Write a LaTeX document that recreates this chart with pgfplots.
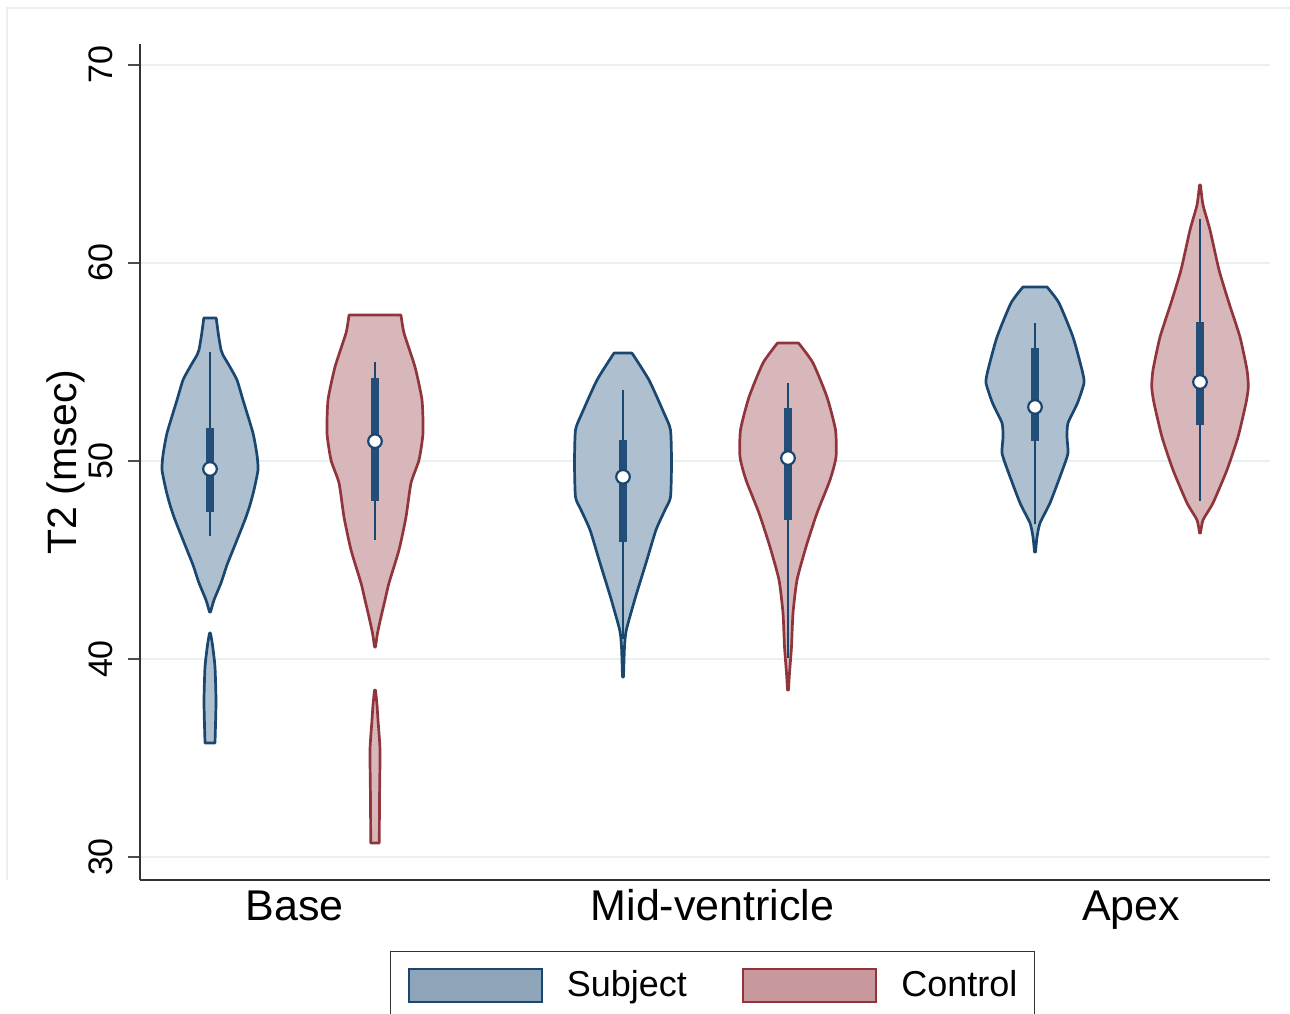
\documentclass[border=0pt]{standalone}
\usepackage{pgfplots}
\pgfplotsset{compat=1.18}
\usepackage{pgfplotstable}
\usepgfplotslibrary{fillbetween}
\usepackage{fontspec}
\setmainfont{Liberation Sans}
\definecolor{navy}{HTML}{1A476F}
\definecolor{boxc}{HTML}{224E78}
\definecolor{maroon}{HTML}{90353B}
\definecolor{sfill}{HTML}{AEBFCF}
\definecolor{cfill}{HTML}{D8B7BB}
\definecolor{slegf}{HTML}{8EA4B8}
\definecolor{clegf}{HTML}{C8989C}
\definecolor{gridc}{HTML}{E8F0F2}

% violin outlines: y value, half-width (in x-axis units)
\pgfplotstableread{
y w
42.37 0.5
42.98 4
43.84 11
44.75 17
45.51 23
46.52 31
47.17 36
47.78 40
48.54 44
49.55 48
50.30 47
51.41 43
53.08 33
54.09 27
54.75 20
55.35 13
55.61 11
56.36 8.5
57.22 6.2
}\bsA
\pgfplotstableread{
y w
35.76 5
36.67 5.5
37.93 6
39.60 5
40.71 2.5
41.31 0.5
}\bsB
\pgfplotstableread{
y w
40.61 0.5
41.31 2.5
42.12 6
42.98 10
43.84 14
45.51 24
47.17 31
48.89 36
50.05 44
51.41 48
53.08 47
54.75 40
56.46 29
57.37 26
}\bcA
\pgfplotstableread{
y w
30.71 4.3
32.88 4.5
35.40 5
36.92 3
37.68 2
38.43 0.5
}\bcB
\pgfplotstableread{
y w
39.09 0.5
40.61 1.5
41.46 3.3
43.13 12.5
44.85 23
46.52 33
47.53 42
48.18 47.5
49.90 48.5
51.57 47.5
52.42 41
54.09 26
55.45 9
}\msA
\pgfplotstableread{
y w
38.43 0.5
39.29 1.5
40.61 3.5
42.32 5
43.99 9
45.66 18
47.37 29
49.04 42
50.20 48
51.57 47.5
53.23 39
54.95 25
55.96 10.5
}\mcA
\pgfplotstableread{
y w
45.40 0.5
46.16 2
46.87 5
47.88 15
49.55 27.5
50.40 33
51.21 32
51.92 33
52.93 42.5
53.94 49
54.60 47
56.26 38
57.98 24
58.79 12
}\asA
\pgfplotstableread{
y w
46.36 0.5
47.02 3
47.88 13
49.55 27
51.21 38
52.93 46
53.74 48.3
54.60 47
56.26 40
57.98 29
59.65 19
61.67 10
62.93 3
63.94 0.5
}\acA

\newcommand{\violin}[5]{%
  \addplot[draw=none, forget plot, smooth, tension=0.35, name path=#2R] table[x expr=#3+\thisrow{w}, y=y]{#1};
  \addplot[draw=none, forget plot, smooth, tension=0.35, name path=#2L] table[x expr=#3-\thisrow{w}, y=y]{#1};
  \addplot[fill=#4, draw=#5, line width=1.35pt, line join=round, forget plot] fill between[of=#2R and #2L, reverse=true];
}

\begin{document}
\begin{tikzpicture}
\draw[gridc, line width=0.75pt] (3.5pt,66.5pt) -- (3.5pt,502.5pt) -- (645pt,502.5pt);
\begin{axis}[
  at={(70pt,66.5pt)}, anchor=south west,
  width=565pt, height=418pt, scale only axis,
  xmin=140, xmax=1270, ymin=28.84, ymax=71.06,
  axis x line*=bottom, axis y line*=left,
  axis line style={black!80, line width=0.75pt},
  ytick={30,40,50,60,70},
  ymajorgrids, grid style={gridc, line width=1pt},
  tick align=outside, major tick length=6pt,
  ytick style={black!70, line width=0.75pt},
  xtick={294.5,712.5,1131},
  xticklabels={Base,Mid-ventricle,Apex},
  xtick style={draw=none},
  /pgf/number format/assume math mode=true,
  yticklabel style={rotate=90, anchor=south, inner sep=0pt, yshift=7.25pt, font=\fontsize{17}{20}\selectfont},
  xticklabel style={anchor=base, inner sep=0pt, yshift=-14pt, font=\fontsize{21.5}{24}\selectfont},
  ylabel={T2 (msec)},
  ylabel style={at={(axis description cs:-0.0655,0.5)}, anchor=center, font=\fontsize{20.5}{24}\selectfont},
  legend columns=2,
  legend style={at={(axis description cs:0.5066,-0.0849)}, anchor=north,
    draw=black!80, line width=0.6pt, inner xsep=8.5pt, inner ysep=8pt,
    font=\fontsize{18}{20}\selectfont,
    nodes={inner sep=0pt},
    /tikz/every odd column/.style={column sep=12pt},
    /tikz/every even column/.style={column sep=27.5pt}},
  clip=false,
]
\violin{\bsA}{bsa}{210}{sfill}{navy}
\violin{\bsB}{bsb}{210}{sfill}{navy}
\violin{\bcA}{bca}{375}{cfill}{maroon}
\violin{\bcB}{bcb}{375}{cfill}{maroon}
\violin{\msA}{msa}{623}{sfill}{navy}
\violin{\mcA}{mca}{788}{cfill}{maroon}
\violin{\asA}{asa}{1035}{sfill}{navy}
\violin{\acA}{aca}{1200}{cfill}{maroon}

% whiskers
\addplot[navy, line width=1.4pt, forget plot] coordinates {(210,46.2) (210,55.5)};
\addplot[navy, line width=1.4pt, forget plot] coordinates {(375,46.0) (375,55.0)};
\addplot[navy, line width=1.4pt, forget plot] coordinates {(623,41.0) (623,53.6)};
\addplot[navy, line width=1.4pt, forget plot] coordinates {(788,40.05) (788,53.94)};
\addplot[navy, line width=1.4pt, forget plot] coordinates {(1035,46.8) (1035,56.97)};
\addplot[navy, line width=1.4pt, forget plot] coordinates {(1200,48.0) (1200,62.2)};
% boxes
\addplot[boxc, line width=4.2pt, forget plot] coordinates {(210,47.42) (210,51.67)};
\addplot[boxc, line width=4.2pt, forget plot] coordinates {(375,48.0) (375,54.2)};
\addplot[boxc, line width=4.2pt, forget plot] coordinates {(623,45.9) (623,51.06)};
\addplot[boxc, line width=4.2pt, forget plot] coordinates {(788,47.02) (788,52.68)};
\addplot[boxc, line width=4.2pt, forget plot] coordinates {(1035,51.0) (1035,55.7)};
\addplot[boxc, line width=4.2pt, forget plot] coordinates {(1200,51.8) (1200,57.0)};
% medians
\addplot[only marks, mark=*, mark size=3.4pt, mark options={fill=white, draw=navy, line width=1.1pt}, forget plot]
  coordinates {(210,49.6) (375,51.0) (623,49.2) (788,50.15) (1035,52.73) (1200,53.99)};

\addlegendimage{legend image code/.code={\draw[draw=navy, fill=slegf, line width=1.2pt] (0pt,-8.25pt) rectangle (66.5pt,8.25pt);}}
\addlegendentry{Subject}
\addlegendimage{legend image code/.code={\draw[draw=maroon, fill=clegf, line width=1.2pt] (0pt,-8.25pt) rectangle (66.5pt,8.25pt);}}
\addlegendentry{Control}
\end{axis}
\pgfresetboundingbox
\path[use as bounding box] (0,0) rectangle (645pt,506.5pt);
\end{tikzpicture}
\end{document}
